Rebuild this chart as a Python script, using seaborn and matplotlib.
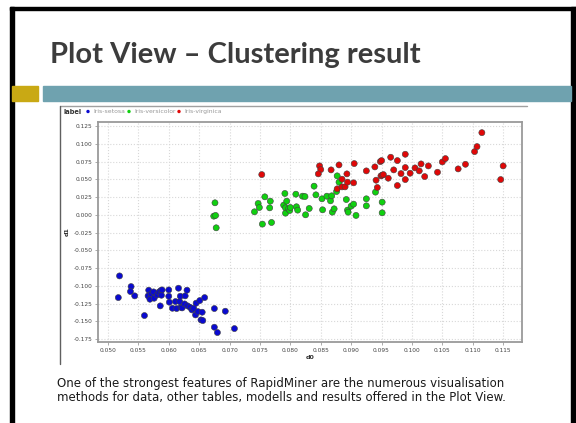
import pandas as pd
import matplotlib
matplotlib.use("Agg")
import matplotlib.pyplot as plt
from matplotlib.patches import Rectangle
import seaborn as sns

# cluster result points (d0, d1) per label
setosa_d0 = [0.0519, 0.0517, 0.0538, 0.0537, 0.0544, 0.0560, 0.0567, 0.0566, 0.0569, 0.0571,
             0.0575, 0.0576, 0.0581, 0.0584, 0.0587, 0.0588, 0.0586, 0.0589, 0.0600, 0.0600,
             0.0601, 0.0606, 0.0611, 0.0613, 0.0616, 0.0618, 0.0619, 0.0620, 0.0622, 0.0626,
             0.0627, 0.0630, 0.0631, 0.0635, 0.0638, 0.0641, 0.0644, 0.0645, 0.0648, 0.0651,
             0.0653, 0.0655, 0.0656, 0.0659, 0.0675, 0.0675, 0.0680, 0.0693, 0.0708]
setosa_d1 = [-0.0860, -0.1165, -0.1010, -0.1080, -0.1141, -0.1418, -0.1061, -0.1141, -0.1188, -0.1113,
             -0.1085, -0.1174, -0.1127, -0.1085, -0.1066, -0.1132, -0.1282, -0.1057, -0.1057, -0.1146,
             -0.1230, -0.1315, -0.1221, -0.1319, -0.1033, -0.1221, -0.1146, -0.1301, -0.1310, -0.1254,
             -0.1141, -0.1061, -0.1282, -0.1301, -0.1338, -0.1315, -0.1409, -0.1244, -0.1362, -0.1207,
             -0.1479, -0.1371, -0.1488, -0.1165, -0.1319, -0.1582, -0.1657, -0.1357, -0.1601]

versicolor_d0 = [0.0676, 0.0674, 0.0677, 0.0678, 0.0741, 0.0747, 0.0749, 0.0754, 0.0758, 0.0766,
                 0.0767, 0.0769, 0.0789, 0.0791, 0.0792, 0.0794, 0.0792, 0.0797, 0.0799, 0.0800,
                 0.0809, 0.0810, 0.0812, 0.0825, 0.0820, 0.0824, 0.0831, 0.0839, 0.0842, 0.0852,
                 0.0853, 0.0860, 0.0866, 0.0868, 0.0869, 0.0872, 0.0876, 0.0877, 0.0880, 0.0892,
                 0.0894, 0.0895, 0.0900, 0.0904, 0.0908, 0.0925, 0.0925, 0.0940, 0.0951, 0.0951]
versicolor_d1 = [0.0169, -0.0019, -0.0009, -0.0183, 0.0042, 0.0159, 0.0103, -0.0131, 0.0253, 0.0098,
                 0.0192, -0.0108, 0.0136, 0.0300, 0.0098, 0.0192, 0.0023, 0.0084, 0.0061, 0.0103,
                 0.0290, 0.0113, 0.0066, 0.0000, 0.0262, 0.0257, 0.0089, 0.0403, 0.0281, 0.0225,
                 0.0070, 0.0262, 0.0197, 0.0267, 0.0037, 0.0084, 0.0328, 0.0548, 0.0459, 0.0215,
                 0.0066, 0.0037, 0.0122, 0.0150, -0.0009, 0.0225, 0.0126, 0.0319, 0.0178, 0.0028]

virginica_d0 = [0.0753, 0.0848, 0.0850, 0.0846, 0.0867, 0.0880, 0.0877, 0.0885, 0.0885, 0.0890,
                0.0893, 0.0894, 0.0904, 0.0905, 0.0925, 0.0939, 0.0941, 0.0943, 0.0948, 0.0950,
                0.0949, 0.0951, 0.0953, 0.0961, 0.0965, 0.0970, 0.0976, 0.0976, 0.0982, 0.0989,
                0.0989, 0.0989, 0.0997, 0.1005, 0.1012, 0.1015, 0.1021, 0.1027, 0.1042, 0.1050,
                0.1055, 0.1076, 0.1088, 0.1103, 0.1107, 0.1115, 0.1146, 0.1150]
virginica_d1 = [0.0566, 0.0688, 0.0637, 0.0576, 0.0632, 0.0702, 0.0365, 0.0501, 0.0393, 0.0393,
                0.0576, 0.0459, 0.0450, 0.0721, 0.0618, 0.0674, 0.0487, 0.0384, 0.0749, 0.0763,
                0.0548, 0.0557, 0.0566, 0.0515, 0.0810, 0.0632, 0.0763, 0.0412, 0.0580, 0.0852,
                0.0665, 0.0496, 0.0585, 0.0660, 0.0618, 0.0716, 0.0538, 0.0688, 0.0599, 0.0744,
                0.0791, 0.0646, 0.0711, 0.0889, 0.0960, 0.1156, 0.0496, 0.0688]

labels = ["Iris-setosa", "Iris-versicolor", "Iris-virginica"]
colors = ["#0a0ad0", "#10d010", "#e00808"]
xticks = [0.050, 0.055, 0.060, 0.065, 0.070, 0.075, 0.080, 0.085, 0.090, 0.095, 0.100, 0.105, 0.110, 0.115]
yticks = [-0.175, -0.150, -0.125, -0.100, -0.075, -0.050, -0.025, 0.000, 0.025, 0.050, 0.075, 0.100, 0.125]

title = "Plot View \u2013 Clustering result"
body_lines = ["One of the strongest features of RapidMiner are the numerous visualisation",
              "methods for data, other tables, modells and results offered in the Plot View."]

df = pd.concat([
    pd.DataFrame({"d0": setosa_d0, "d1": setosa_d1, "label": labels[0]}),
    pd.DataFrame({"d0": versicolor_d0, "d1": versicolor_d1, "label": labels[1]}),
    pd.DataFrame({"d0": virginica_d0, "d1": virginica_d1, "label": labels[2]}),
])

sns.set_theme(style="white")
plt.rcParams["font.family"] = ["DejaVu Sans"]

fig = plt.figure(figsize=(5.76, 4.23), dpi=100)
fig.patch.set_facecolor("white")

# slide decorations in pixel coordinates
bg = fig.add_axes([0, 0, 1, 1])
bg.set_xlim(0, 576)
bg.set_ylim(423, 0)
bg.axis("off")
bg.add_patch(Rectangle((10, 7), 566, 3.5, color="black"))
bg.add_patch(Rectangle((10, 7), 4, 416, color="black"))
bg.add_patch(Rectangle((571, 7), 5, 416, color="black"))
bg.add_patch(Rectangle((12, 86), 26, 15, color="#c9a914"))
bg.add_patch(Rectangle((43, 86), 528, 15, color="#6fa2af"))
bg.plot([60, 527], [106.5, 106.5], color="#a0a0a0", lw=1)
bg.plot([60, 60], [106.5, 364], color="#606060", lw=1)
bg.text(50, 55, title, fontsize=21, fontweight="bold", color="#3c3c3c",
        family=["Lato", "DejaVu Sans"], va="center", ha="left")
for i, line in enumerate(body_lines):
    bg.text(57, 383 + 14 * i, line, fontsize=8.5, color="#1a1a1a", va="center", ha="left")

# legend row
bg.text(63, 111.5, "label", fontsize=4.8, fontweight="bold", color="#333333", va="center")
leg_x = [88, 129, 179]
for lx, lab, col in zip(leg_x, labels, colors):
    bg.scatter([lx], [111.5], s=6, color=col, edgecolor="none")
    bg.text(lx + 5, 111.5, lab, fontsize=4.4, color="#999999", va="center")

ax = fig.add_axes([98 / 576, 1 - 342 / 423, 424 / 576, 220 / 423])
sns.scatterplot(data=df, x="d0", y="d1", hue="label", hue_order=labels, palette=colors,
                s=19, edgecolor="#404040", linewidth=0.4, legend=False, ax=ax, zorder=3)
ax.set_xlim(0.04836, 0.1181)
ax.set_ylim(-0.179, 0.1306)
ax.set_xticks(xticks)
ax.set_yticks(yticks)
ax.set_xticklabels([f"{v:.3f}" for v in xticks])
ax.set_yticklabels([f"{v:.3f}" for v in yticks])
ax.tick_params(axis="both", labelsize=4.2, labelcolor="#444444", length=2, width=0.5,
               color="#888888", direction="out", pad=2, bottom=True, left=True)
ax.grid(True, color="#d8d8d8", linestyle=":", linewidth=0.8)
for sp in ax.spines.values():
    sp.set_color("#9a9a9a")
    sp.set_linewidth(1.3)
ax.set_xlabel("d0", fontsize=4.6, fontweight="bold", color="#333333", labelpad=2)
ax.set_ylabel("d1", fontsize=4.6, fontweight="bold", color="#333333", labelpad=3)

fig.savefig("out.png", dpi=100)
